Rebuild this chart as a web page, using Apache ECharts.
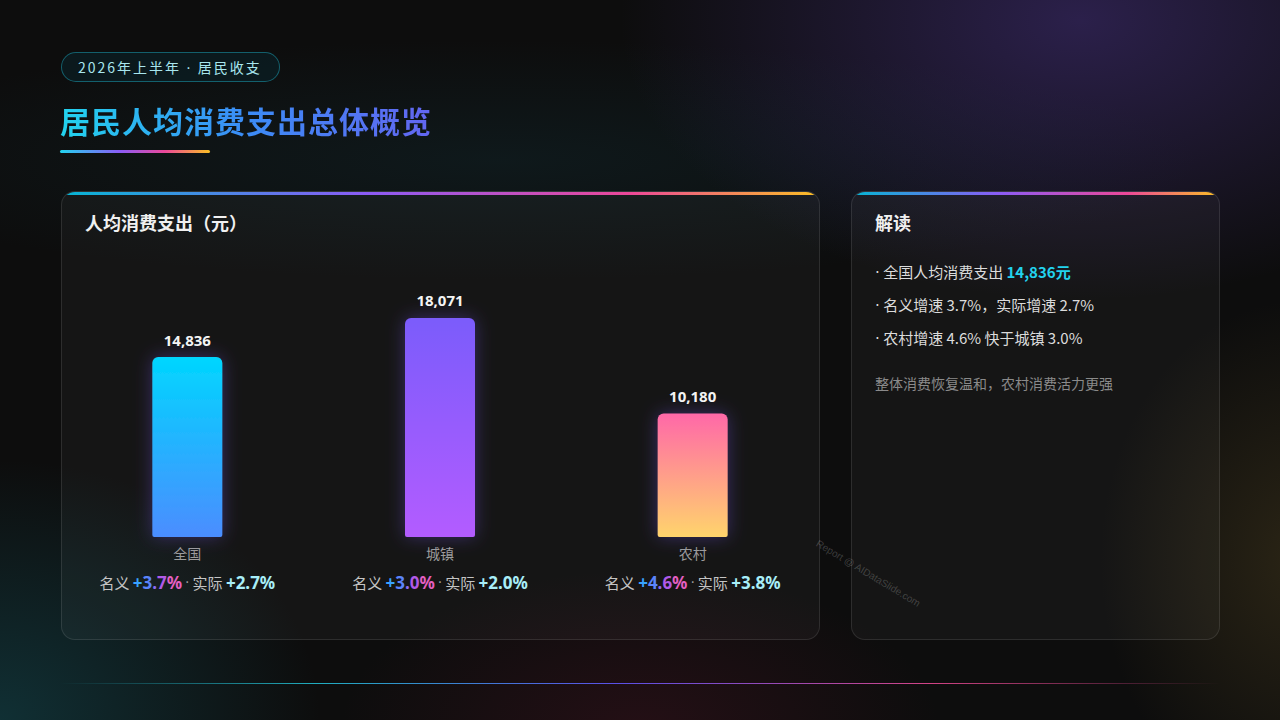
<!DOCTYPE html>
<html>
<head>
<meta charset="utf-8">
<script src="https://cdn.jsdelivr.net/npm/echarts@6/dist/echarts.min.js"></script>
<style>
  html,body{margin:0;padding:0;}
  body{
    width:1280px;height:720px;overflow:hidden;position:relative;
    font-family:"Noto Sans CJK SC","Noto Sans",sans-serif;
    background:
      radial-gradient(ellipse 460px 280px at 1080px 20px, rgba(80,55,150,0.45), rgba(80,55,150,0) 100%),
      radial-gradient(ellipse 700px 120px at 500px 160px, rgba(20,60,70,0.25), rgba(20,60,70,0) 100%),
      radial-gradient(ellipse 320px 260px at 0px 720px, rgba(20,90,100,0.45), rgba(20,90,100,0) 100%),
      radial-gradient(ellipse 300px 160px at 640px 730px, rgba(90,20,40,0.3), rgba(90,20,40,0) 100%),
      radial-gradient(ellipse 200px 260px at 1300px 560px, rgba(110,90,40,0.3), rgba(110,90,40,0) 100%),
      #0d0d0d;
  }
  .dot{font-family:"DejaVu Sans","Noto Sans",sans-serif;}
  .pill{position:absolute;left:61px;top:52px;width:217px;height:28px;border:1px solid rgba(34,211,238,0.38);
    border-radius:15px;background:rgba(8,40,48,0.45);box-sizing:content-box;}
  .pill span.t{position:absolute;left:16px;top:0;line-height:28px;font-size:14px;color:#a8e6ee;letter-spacing:2px;white-space:nowrap;}
  .title{position:absolute;left:60px;top:98px;font-size:30px;font-weight:700;line-height:44px;letter-spacing:1px;white-space:nowrap;
    background:linear-gradient(90deg,#22d3ee 0%,#3b8cf6 50%,#6366f1 100%);-webkit-background-clip:text;background-clip:text;color:transparent;}
  .uline{position:absolute;left:60px;top:150px;width:150px;height:3px;border-radius:2px;
    background:linear-gradient(90deg,#22d3ee,#8b5cf6 40%,#ec4899 70%,#fbbf24);}
  .panel{position:absolute;top:191px;height:447px;border:1px solid rgba(255,255,255,0.1);border-radius:14px;
    background:rgba(255,255,255,0.035);overflow:hidden;}
  .panel::before{content:"";position:absolute;left:0;right:0;top:0;height:3px;
    background:linear-gradient(90deg,#06b6d4,#8b5cf6 40%,#ec4899 75%,#fbbf24);}
  .ptitle{position:absolute;left:23px;top:18px;font-size:18px;font-weight:700;color:#f0f0f0;line-height:24px;white-space:nowrap;}
  #left{left:61px;width:757px;}
  #right{left:851px;width:367px;}
  #chart{position:absolute;left:61px;top:191px;width:758px;height:448px;}
  .bul{position:absolute;left:23px;font-size:15px;color:#dcdcdc;line-height:22px;white-space:nowrap;}
  .bul b{color:#22d3ee;font-weight:700;}
  .note{position:absolute;left:23px;top:180px;font-size:14px;color:#8a8a8a;line-height:22px;white-space:nowrap;}
  .wm{position:absolute;left:817px;top:537px;font-size:10px;color:rgba(255,255,255,0.2);transform:rotate(31deg);transform-origin:left center;white-space:nowrap;font-family:"Liberation Sans",sans-serif;}
  .bline{position:absolute;left:60px;top:683px;width:1160px;height:1px;
    background:linear-gradient(90deg,rgba(34,211,238,0) 0%,rgba(34,190,210,0.9) 22%,rgba(90,80,230,1) 48%,rgba(220,70,140,0.95) 75%,rgba(236,72,153,0) 100%);}
</style>
</head>
<body>
<div class="pill"><span class="t">2026年上半年 <span class="dot">·</span> 居民收支</span></div>
<div class="title">居民人均消费支出总体概览</div>
<div class="uline"></div>

<div class="panel" id="left"><div class="ptitle">人均消费支出（元）</div></div>
<div id="chart"></div>

<div class="panel" id="right">
  <div class="ptitle">解读</div>
  <div class="bul" style="top:69px"><span class="dot">·</span> 全国人均消费支出 <b>14,836元</b></div>
  <div class="bul" style="top:102px"><span class="dot">·</span> 名义增速 3.7%，实际增速 2.7%</div>
  <div class="bul" style="top:135px"><span class="dot">·</span> 农村增速 4.6% 快于城镇 3.0%</div>
  <div class="note">整体消费恢复温和，农村消费活力更强</div>
</div>

<div class="wm">Report @ AIDataSlide.com</div>
<div class="bline"></div>

<script>
const categories = ['全国', '城镇', '农村'];
const spending = [14836, 18071, 10180];
const nominalGrowth = [3.7, 3.0, 4.6];
const realGrowth = [2.7, 2.0, 3.8];

const barGradients = [
  ['#00d6ff', '#4b8dff'],
  ['#7b5cfb', '#b35cff'],
  ['#ff68a8', '#ffd46c']
];
const nomColors = ['#38a2ff', '#5a84fb', '#8c6cf4', '#b05ae8', '#e45fc2'];

const chart = echarts.init(document.getElementById('chart'), null, {renderer: 'svg'});

const rich = {
  cat: {fontSize: 14, color: '#9c9c9c', lineHeight: 22, fontFamily: 'Noto Sans CJK SC'},
  lbl: {fontSize: 15, color: '#c4c4c4', lineHeight: 36, fontFamily: 'Noto Sans CJK SC'},
  dot: {fontSize: 14, color: '#9c9c9c', lineHeight: 36, padding: [0, 3, 0, 3], fontFamily: 'DejaVu Sans'},
  r: {fontSize: 17, color: '#a8eef8', fontWeight: 'bold', lineHeight: 36, fontFamily: 'Noto Sans'}
};
nomColors.forEach((c, i) => {
  rich['n' + i] = {fontSize: 17, color: c, fontWeight: 'bold', lineHeight: 36, fontFamily: 'Noto Sans'};
});

function fmtPct(v) { return '+' + v.toFixed(1) + '%'; }

chart.setOption({
  animation: false,
  grid: {left: 0, right: 0, top: 103.5, bottom: 102},
  xAxis: {
    type: 'category',
    data: categories,
    axisLine: {show: false},
    axisTick: {show: false},
    axisLabel: {
      interval: 0,
      margin: 5,
      formatter: function (value, idx) {
        const nom = fmtPct(nominalGrowth[idx]).split('').map((ch, k) => '{n' + k + '|' + ch + '}').join('');
        return '{cat|' + value + '}\n{lbl|名义 }' + nom + '{dot|·}{lbl|实际 }{r|' + fmtPct(realGrowth[idx]) + '}';
      },
      rich: rich
    }
  },
  yAxis: {
    type: 'value', min: 0, max: 20000, show: false,
    splitLine: {show: false}
  },
  series: [{
    type: 'bar',
    barWidth: 70,
    data: spending.map((v, i) => ({
      value: v,
      itemStyle: {
        color: new echarts.graphic.LinearGradient(0, 0, 0, 1, [
          {offset: 0, color: barGradients[i][0]},
          {offset: 1, color: barGradients[i][1]}
        ])
      }
    })),
    itemStyle: {
      borderRadius: [6, 6, 2, 2],
      shadowBlur: 18,
      shadowColor: 'rgba(124,92,252,0.35)'
    },
    label: {
      show: true,
      position: 'top',
      distance: 10,
      color: '#f4f4f4',
      fontSize: 15,
      fontWeight: 'bold',
      fontFamily: 'Noto Sans',
      formatter: p => p.value.toLocaleString('en-US')
    }
  }]
});
</script>
</body>
</html>
